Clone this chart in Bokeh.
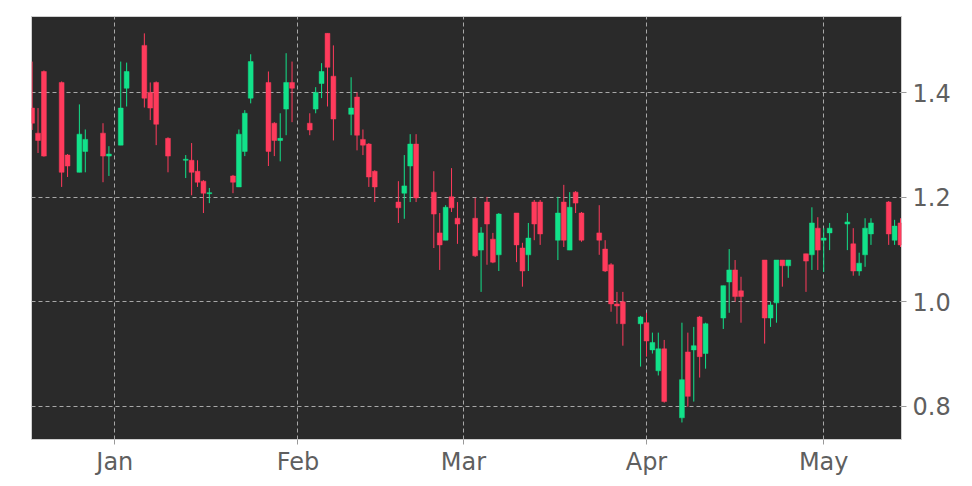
import pandas as pd
from datetime import datetime
from bokeh.plotting import figure
from bokeh.models import ColumnDataSource, FixedTicker, DatetimeTickFormatter, Range1d, PrintfTickFormatter
from bokeh.embed import file_html
from bokeh.resources import INLINE

dates = ["2024-12-18", "2024-12-19", "2024-12-20", "2024-12-23", "2024-12-24", "2024-12-26", "2024-12-27",
         "2024-12-30", "2024-12-31", "2025-01-02", "2025-01-03", "2025-01-06", "2025-01-07", "2025-01-08",
         "2025-01-10", "2025-01-13", "2025-01-14", "2025-01-15", "2025-01-16", "2025-01-17", "2025-01-21",
         "2025-01-22", "2025-01-23", "2025-01-24", "2025-01-27", "2025-01-28", "2025-01-29", "2025-01-30",
         "2025-01-31", "2025-02-03", "2025-02-04", "2025-02-05", "2025-02-06", "2025-02-07", "2025-02-10",
         "2025-02-11", "2025-02-12", "2025-02-13", "2025-02-14", "2025-02-18", "2025-02-19", "2025-02-20",
         "2025-02-21", "2025-02-24", "2025-02-25", "2025-02-26", "2025-02-27", "2025-02-28", "2025-03-03",
         "2025-03-04", "2025-03-05", "2025-03-06", "2025-03-07", "2025-03-10", "2025-03-11", "2025-03-12",
         "2025-03-13", "2025-03-14", "2025-03-17", "2025-03-18", "2025-03-19", "2025-03-20", "2025-03-21",
         "2025-03-24", "2025-03-25", "2025-03-26", "2025-03-27", "2025-03-28", "2025-03-31", "2025-04-01",
         "2025-04-02", "2025-04-03", "2025-04-04", "2025-04-07", "2025-04-08", "2025-04-09", "2025-04-10",
         "2025-04-11", "2025-04-14", "2025-04-15", "2025-04-16", "2025-04-17", "2025-04-21", "2025-04-22",
         "2025-04-23", "2025-04-24", "2025-04-25", "2025-04-28", "2025-04-29", "2025-04-30", "2025-05-01",
         "2025-05-02", "2025-05-05", "2025-05-06", "2025-05-07", "2025-05-08", "2025-05-09", "2025-05-12",
         "2025-05-13", "2025-05-14"]

opens = [1.371, 1.323, 1.441, 1.420, 1.281, 1.248, 1.288, 1.323, 1.279, 1.300, 1.409, 1.491, 1.401, 1.420,
         1.313, 1.271, 1.271, 1.250, 1.231, 1.207, 1.241, 1.220, 1.288, 1.390, 1.420, 1.342, 1.309, 1.369,
         1.420, 1.342, 1.369, 1.418, 1.514, 1.432, 1.359, 1.392, 1.311, 1.302, 1.250, 1.191, 1.208, 1.260,
         1.302, 1.210, 1.132, 1.118, 1.201, 1.160, 1.160, 1.099, 1.191, 1.120, 1.090, 1.170, 1.103, 1.090,
         1.191, 1.191, 1.118, 1.191, 1.099, 1.210, 1.170, 1.132, 1.101, 1.071, 0.996, 1.000, 0.958, 0.960,
         0.908, 0.868, 0.910, 0.778, 0.904, 0.908, 0.971, 0.901, 0.969, 1.038, 1.061, 1.021, 1.080, 0.969,
         0.998, 1.080, 1.069, 1.092, 1.090, 1.141, 1.118, 1.132, 1.149, 1.111, 1.059, 1.090, 1.130, 1.191,
         1.118, 1.151]

highs = [1.460, 1.371, 1.443, 1.422, 1.283, 1.378, 1.330, 1.342, 1.298, 1.460, 1.458, 1.514, 1.420, 1.422,
         1.315, 1.281, 1.304, 1.271, 1.233, 1.218, 1.243, 1.330, 1.367, 1.474, 1.441, 1.344, 1.361, 1.476,
         1.460, 1.361, 1.411, 1.457, 1.514, 1.491, 1.430, 1.401, 1.330, 1.304, 1.252, 1.231, 1.281, 1.321,
         1.321, 1.250, 1.170, 1.185, 1.256, 1.191, 1.199, 1.143, 1.201, 1.132, 1.170, 1.170, 1.113, 1.151,
         1.195, 1.195, 1.201, 1.224, 1.210, 1.212, 1.172, 1.185, 1.118, 1.074, 1.019, 1.019, 0.973, 0.979,
         0.941, 0.941, 0.927, 0.960, 0.941, 0.952, 0.973, 0.960, 1.031, 1.101, 1.080, 1.048, 1.080, 1.000,
         1.080, 1.080, 1.080, 1.092, 1.181, 1.162, 1.141, 1.151, 1.170, 1.141, 1.094, 1.160, 1.160, 1.193,
         1.157, 1.160]

lows = [1.329, 1.285, 1.278, 1.220, 1.239, 1.248, 1.248, 1.229, 1.241, 1.300, 1.374, 1.372, 1.348, 1.300,
        1.248, 1.237, 1.204, 1.220, 1.170, 1.189, 1.208, 1.220, 1.279, 1.380, 1.260, 1.279, 1.269, 1.319,
        1.344, 1.319, 1.361, 1.390, 1.374, 1.309, 1.319, 1.290, 1.281, 1.220, 1.191, 1.151, 1.159, 1.191,
        1.191, 1.103, 1.061, 1.118, 1.172, 1.111, 1.086, 1.019, 1.071, 1.074, 1.059, 1.076, 1.029, 1.059,
        1.118, 1.109, 1.080, 1.105, 1.099, 1.170, 1.115, 1.090, 1.057, 0.981, 0.958, 0.916, 0.876, 0.895,
        0.901, 0.859, 0.807, 0.769, 0.799, 0.809, 0.855, 0.872, 0.948, 0.979, 1.000, 0.960, 0.920, 0.952,
        0.960, 1.029, 1.046, 1.019, 1.061, 1.061, 1.057, 1.099, 1.099, 1.050, 1.050, 1.067, 1.109, 1.109,
        1.109, 1.105]

closes = [1.342, 1.309, 1.279, 1.248, 1.260, 1.321, 1.311, 1.279, 1.283, 1.371, 1.441, 1.390, 1.371, 1.340,
          1.279, 1.273, 1.248, 1.229, 1.208, 1.209, 1.229, 1.321, 1.361, 1.460, 1.288, 1.309, 1.313, 1.420,
          1.409, 1.329, 1.401, 1.441, 1.449, 1.350, 1.371, 1.319, 1.300, 1.239, 1.220, 1.180, 1.222, 1.302,
          1.199, 1.168, 1.109, 1.181, 1.180, 1.149, 1.088, 1.132, 1.149, 1.076, 1.168, 1.109, 1.059, 1.122,
          1.149, 1.130, 1.170, 1.118, 1.181, 1.189, 1.118, 1.118, 1.059, 0.996, 0.992, 0.958, 0.971, 0.925,
          0.922, 0.910, 0.809, 0.851, 0.819, 0.916, 0.895, 0.958, 1.031, 1.061, 1.010, 1.010, 0.969, 0.994,
          1.080, 1.069, 1.080, 1.078, 1.151, 1.099, 1.122, 1.141, 1.153, 1.059, 1.074, 1.141, 1.151, 1.130,
          1.145, 1.109]

y_ticks = [0.8, 1.0, 1.2, 1.4]
month_ticks = ["2025-01-01", "2025-02-01", "2025-03-01", "2025-04-01", "2025-05-01"]

UP = "#12e28a"
DOWN = "#ff3b5c"

dt = pd.to_datetime(dates)
colors = [UP if c >= o else DOWN for o, c in zip(opens, closes)]
tops = [max(o, c) for o, c in zip(opens, closes)]
bots = [min(o, c) for o, c in zip(opens, closes)]
src = ColumnDataSource(dict(x=dt, o=opens, h=highs, l=lows, c=closes, top=tops, bot=bots, col=colors))

p = figure(width=964, height=478, x_axis_type="datetime", y_axis_location="right",
           output_backend="svg", toolbar_location=None,
           x_range=Range1d(datetime(2024, 12, 17, 21, 30), datetime(2025, 5, 14, 4, 0)),
           y_range=Range1d(0.7364, 1.5463),
           min_border_left=31, min_border_right=63, min_border_top=16, min_border_bottom=38)

p.background_fill_color = "#2a2a2a"
p.border_fill_color = "white"
p.outline_line_color = "#cfcfcf"

p.segment(x0="x", y0="h", x1="x", y1="l", source=src, line_color="col", line_width=1)
p.vbar(x="x", width=0.82 * 86400000, top="top", bottom="bot", source=src,
       fill_color="col", line_color="col", line_width=0.5)

p.xaxis.ticker = FixedTicker(ticks=[pd.Timestamp(m).value // 10**6 for m in month_ticks])
p.xaxis.formatter = DatetimeTickFormatter(milliseconds="%b", seconds="%b", minsec="%b", minutes="%b",
                                          hourmin="%b", hours="%b", days="%b", months="%b", years="%b")
p.yaxis.ticker = FixedTicker(ticks=y_ticks)
p.yaxis.formatter = PrintfTickFormatter(format="%.1f")

for ax in (p.xaxis[0], p.yaxis[0]):
    ax.axis_line_color = None
    ax.major_tick_out = 5
    ax.major_tick_in = 0
    ax.minor_tick_line_color = None
    ax.major_tick_line_color = "#9a9a9a"
    ax.major_label_text_font = "DejaVu Sans"
    ax.major_label_text_font_size = "24px"
    ax.major_label_text_color = "#5f5f5f"
    ax.major_label_standoff = 6
p.xaxis[0].major_label_standoff = 3

for g in (p.xgrid[0], p.ygrid[0]):
    g.grid_line_color = "#a8a8a8"
    g.grid_line_dash = "4 3"
    g.grid_line_width = 1

open("out.html", "w").write(file_html(p, INLINE))
